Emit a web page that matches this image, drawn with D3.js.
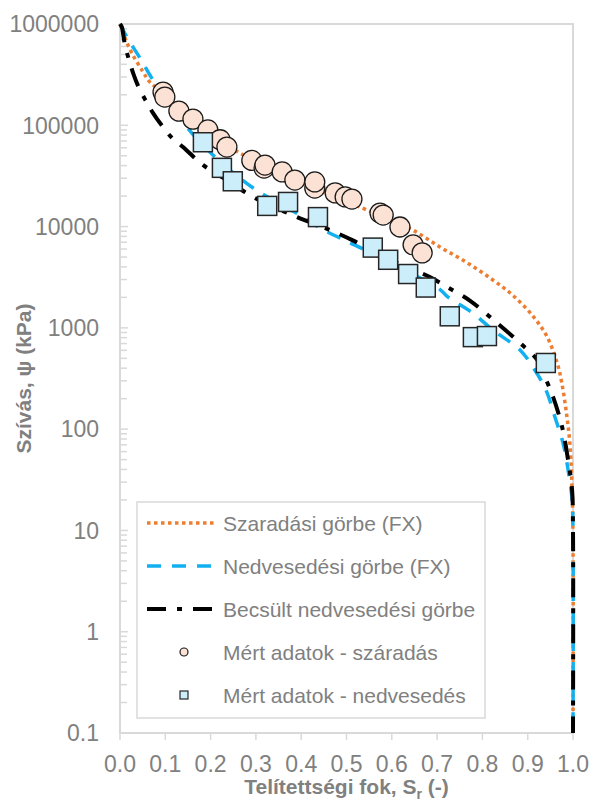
<!DOCTYPE html>
<html><head><meta charset="utf-8">
<script src="https://cdn.jsdelivr.net/npm/d3@7"></script>
<style>body{margin:0;background:#fff}svg{display:block}text{font-family:"Liberation Sans",Arial,sans-serif}</style>
</head><body>
<script>
// measured data
const dryS   = [0.095,0.099,0.130,0.161,0.194,0.221,0.236,0.291,0.318,0.320,0.358,0.386,0.430,0.430,0.475,0.497,0.512,0.574,0.581,0.618,0.647,0.667];
const dryPsi = [213000,190000,138000,115000,90000,72000,61000,45000,37800,40500,34600,28800,24000,27600,21500,19600,18700,13600,13000,9900,6600,5500];
const wetS   = [0.183,0.225,0.249,0.325,0.371,0.437,0.558,0.592,0.636,0.675,0.728,0.779,0.810,0.940];
const wetPsi = [68000,38000,28000,16000,17500,12400,6200,4700,3400,2500,1300,810,830,450];
// fitted curves
const dryFxS   = [0,0.011,0.026,0.051,0.066,0.10,0.15,0.20,0.265,0.40,0.534,0.60,0.647,0.706,0.766,0.823,0.868,0.912,0.943,0.965,0.975,0.985,0.993,0.998,1.0,1.0];
const dryFxPsi = [1e6,728000,518000,336000,267000,200000,125000,85000,53000,28000,15300,11500,9200,6300,4400,2970,2080,1300,813,450,290,150,73,25,8,0.1];
const wetFxS   = [0,0.015,0.044,0.077,0.150,0.205,0.294,0.397,0.441,0.508,0.574,0.64,0.706,0.722,0.777,0.823,0.883,0.910,0.940,0.960,0.978,0.989,0.998,1.0,1.0];
const wetFxPsi = [1e6,745000,462000,262000,93000,51000,24000,13000,9700,6900,5000,3500,2400,2050,1420,953,605,420,245,132,73,40,20,8,0.1];
const estS   = [0,0.004,0.011,0.029,0.044,0.060,0.073,0.095,0.115,0.139,0.183,0.236,0.294,0.391,0.45,0.514,0.55,0.62,0.684,0.722,0.773,0.832,0.883,0.921,0.934,0.956,0.976,0.989,0.998,1.0,1.0];
const estPsi = [1e6,934000,621000,328000,223000,166000,132000,96000,75000,61000,40600,28800,19600,12400,9800,7300,6000,4200,3180,2530,1850,1120,710,482,359,208,105,50,25,10,0.1];
// ticks & labels
const xTicks = [0,0.1,0.2,0.3,0.4,0.5,0.6,0.7,0.8,0.9,1.0];
const yTicks = [0.1,1,10,100,1000,10000,100000,1000000];
const legendLabels = ["Szaradási görbe (FX)","Nedvesedési görbe (FX)","Becsült nedvesedési görbe","Mért adatok - száradás","Mért adatok - nedvesedés"];

const W=593,H=801, L=120,R=573,T=24,B=733;
const grey="#808080", axisCol="#d9d9d9";
const svg=d3.select("body").append("svg").attr("width",W).attr("height",H);
const x=d3.scaleLinear().domain([0,1]).range([L,R]);
const y=d3.scaleLog().domain([0.1,1e6]).range([B,T]);

// frame
svg.append("rect").attr("x",L).attr("y",T).attr("width",R-L).attr("height",B-T)
  .attr("fill","none").attr("stroke",axisCol).attr("stroke-width",2);

// y minor ticks
const minor=[];
for(let e=-1;e<6;e++) for(let k=2;k<=9;k++) minor.push(k*Math.pow(10,e));
svg.append("g").selectAll("line").data(minor).join("line")
  .attr("x1",L).attr("x2",L+7).attr("y1",d=>y(d)).attr("y2",d=>y(d))
  .attr("stroke",axisCol).attr("stroke-width",1.5);
svg.append("g").selectAll("line").data(yTicks).join("line")
  .attr("x1",L).attr("x2",L+8).attr("y1",d=>y(d)).attr("y2",d=>y(d))
  .attr("stroke",axisCol).attr("stroke-width",1.5);
svg.append("g").selectAll("text").data(yTicks).join("text")
  .attr("x",L-21).attr("y",d=>y(d)).attr("dy","0.36em").attr("text-anchor","end")
  .attr("font-size",23).attr("fill",grey).text(d=>String(d));
// x ticks
svg.append("g").selectAll("line").data(xTicks).join("line")
  .attr("x1",d=>x(d)).attr("x2",d=>x(d)).attr("y1",B).attr("y2",B+7)
  .attr("stroke",axisCol).attr("stroke-width",1.5);
svg.append("g").selectAll("text").data(xTicks).join("text")
  .attr("x",d=>x(d)).attr("y",772).attr("text-anchor","middle")
  .attr("font-size",23).attr("fill",grey).text(d=>d3.format(".1f")(d));

// axis titles
const xt=svg.append("text").attr("x",(L+R)/2).attr("y",794).attr("text-anchor","middle")
  .attr("font-size",21).attr("font-weight","bold").attr("fill",grey);
xt.append("tspan").text("Telítettségi fok, S");
xt.append("tspan").attr("font-size",14).attr("dy",5).text("r");
xt.append("tspan").attr("dy",-5).text(" (-)");
svg.append("text").attr("transform",`translate(31,${(T+B)/2}) rotate(-90)`).attr("text-anchor","middle")
  .attr("font-size",21).attr("font-weight","bold").attr("fill",grey).text("Szívás, ψ (kPa)");

// curves
const line=d3.line().x(d=>x(d[0])).y(d=>y(d[1])).curve(d3.curveCatmullRom.alpha(0.5));
const styles=[
  {s:dryFxS,p:dryFxPsi,c:"#ED7D31",w:3.5,da:"3.5,3.5"},
  {s:wetFxS,p:wetFxPsi,c:"#12B0EE",w:3.5,da:"14,11"},
  {s:estS,p:estPsi,c:"#000",w:4,da:"19,11,5,11"}
];
styles.forEach(st=>{
  svg.append("path").datum(d3.zip(st.s,st.p)).attr("d",line).attr("fill","none")
    .attr("stroke",st.c).attr("stroke-width",st.w).attr("stroke-dasharray",st.da);
});
// markers
svg.append("g").selectAll("circle").data(d3.zip(dryS,dryPsi)).join("circle")
  .attr("cx",d=>x(d[0])).attr("cy",d=>y(d[1])).attr("r",10)
  .attr("fill","#FBE2D5").attr("stroke","#1a1a1a").attr("stroke-width",1.3);
const sq=19;
svg.append("g").selectAll("rect").data(d3.zip(wetS,wetPsi)).join("rect")
  .attr("x",d=>x(d[0])-sq/2).attr("y",d=>y(d[1])-sq/2).attr("width",sq).attr("height",sq)
  .attr("fill","#CCEEFB").attr("stroke","#262626").attr("stroke-width",1.5);

// legend
const lg=svg.append("g");
lg.append("rect").attr("x",137).attr("y",502).attr("width",348).attr("height",216)
  .attr("fill","#fff").attr("stroke",axisCol).attr("stroke-width",1.5);
const rowsY=[523,566,609,652,695];
styles.forEach((st,i)=>{
  lg.append("line").attr("x1",147).attr("x2",217).attr("y1",rowsY[i]).attr("y2",rowsY[i])
    .attr("stroke",st.c).attr("stroke-width",st.w).attr("stroke-dasharray",st.da);
});
lg.append("circle").attr("cx",184).attr("cy",rowsY[3]).attr("r",4)
  .attr("fill","#FBE2D5").attr("stroke","#1a1a1a").attr("stroke-width",1.2);
lg.append("rect").attr("x",180).attr("y",rowsY[4]-4).attr("width",8).attr("height",8)
  .attr("fill","#CCEEFB").attr("stroke","#262626").attr("stroke-width",1.2);
legendLabels.forEach((t,i)=>{
  lg.append("text").attr("x",223).attr("y",rowsY[i]).attr("dy","0.36em")
    .attr("font-size",21).attr("fill",grey).text(t);
});
</script>
</body></html>
